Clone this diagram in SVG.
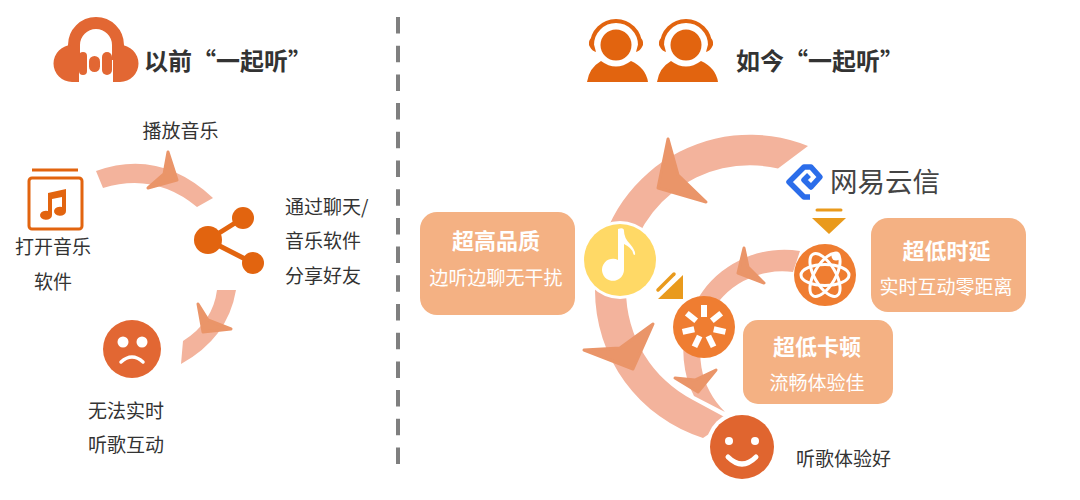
<svg xmlns="http://www.w3.org/2000/svg" width="1080" height="500" viewBox="0 0 1080 500">
<style>
text{font-family:"Noto Sans CJK SC","Liberation Sans",sans-serif;fill:#333;font-size:19px;dominant-baseline:central}
.h{font-size:24px;font-weight:700}
.c{text-anchor:middle}
.bt{font-size:22px;font-weight:700;fill:#fff;text-anchor:middle}
.bs{font-size:19px;fill:#fff;text-anchor:middle}
.arc{fill:#f3b39c}
.star{fill:#ea9569;stroke:#ea9569;stroke-width:3;stroke-linejoin:round}
.o{fill:#e2640f}
.d{fill:#ef7d31}
.box{fill:#f4b183}
.tri{fill:#e99a1c}
.wl{fill:none;stroke:#fff;stroke-linecap:round}
</style>
<rect width="1080" height="500" fill="#fff"/>
<g id="divider"><path d="M398 17V464" stroke="#7f7f7f" stroke-width="4" stroke-dasharray="16.5 12.2"/></g>
<g id="connectors">
<path class="arc" d="M96 171Q160 148 213 198L197 207Q155 172 103 188Z"/>
<path class="arc" d="M217 290H236Q228 338 181 364L183 341Q213 322 217 290Z"/>
<path class="arc" d="M808 146A155 155 0 0 0 595 290A155 155 0 0 0 703 438L730 420L693 400A124 124 0 0 1 626 290A124 124 0 0 1 778 168.500Z"/>
<path class="arc" d="M800 251A101 101 0 0 0 694 396L725 412A82 82 0 0 1 793 272Z"/>
<polygon class="star" points="168,152 177,180 148,188 164,174"/>
<polygon class="star" points="198,304 208,320 231,329 203,332"/>
<polygon class="star" points="668,139 678,175 706,202 658,188"/>
<polygon class="star" points="653,324 633,369 584,350 620,348"/>
<polygon class="star" points="716,370 698,392 675,378 695,380"/>
<polygon class="star" points="744,248 748,267 764,283 738,273"/>
</g>
<g id="title-before">
<g fill="#e26733">
<path d="M74 60V45A22 22 0 0 1 118 45V60" fill="none" stroke="#e26733" stroke-width="12"/>
<path d="M79 45V82H72A18.500 18.500 0 0 1 72 45Z"/>
<path d="M113 45V82H120A18.500 18.500 0 0 0 120 45Z"/>
<rect x="79" y="52" width="8" height="23" rx="4"/>
<rect x="89" y="56" width="11" height="16" rx="5.500"/>
<rect x="102" y="52" width="10" height="23" rx="5"/>
</g>
<text class="h" x="144" y="59.500">以前“一起听”</text>
</g>
<g id="open-music">
<path d="M32 170H78" stroke="#e2640f" stroke-width="3"/>
<rect x="29" y="178" width="53" height="51" rx="3" fill="none" stroke="#e2640f" stroke-width="3"/>
<path class="o" d="M48 193L66 189V211A6 4.500 0 1 1 62 207V197L52 199V215A6 4.500 0 1 1 48 211Z"/>
<text class="c" x="53" y="245.500">打开音乐</text>
<text class="c" x="53" y="280.500">软件</text>
</g>
<g id="play-label"><text class="c" x="180.500" y="129">播放音乐</text></g>
<g id="share">
<path d="M208 240L243 218M208 240L253 263" stroke="#e2640f" stroke-width="5"/>
<circle class="o" cx="208" cy="240" r="14"/>
<circle class="o" cx="243" cy="218" r="11"/>
<circle class="o" cx="253" cy="263" r="11"/>
<text x="285" y="205">通过聊天/</text>
<text x="285" y="239.500">音乐软件</text>
<text x="285" y="274">分享好友</text>
</g>
<g id="sad">
<circle cx="132" cy="349" r="29" fill="#e26733"/>
<circle cx="123" cy="342" r="5.500" fill="#fff"/>
<circle cx="142" cy="342" r="5.500" fill="#fff"/>
<path class="wl" stroke-width="3.500" d="M121 362Q132 352 143 362"/>
<text class="c" x="126" y="409">无法实时</text>
<text class="c" x="126" y="443">听歌互动</text>
</g>
<g id="title-now">
<g id="person1">
<circle class="o" cx="616" cy="45" r="15.500"/>
<path d="M592 45A24 24 0 0 1 640 45" fill="none" stroke="#e2640f" stroke-width="4"/>
<path class="o" d="M592 37Q587 42 590 47Q592 51 596 52ZM640 37Q645 42 642 47Q640 51 636 52Z"/>
<path class="o" d="M587 82Q589 68 601 61Q616 72 631 61Q646 68 648 82Z"/>
</g>
<g id="person2">
<circle class="o" cx="686" cy="45" r="15.500"/>
<path d="M662 45A24 24 0 0 1 710 45" fill="none" stroke="#e2640f" stroke-width="4"/>
<path class="o" d="M662 37Q657 42 660 47Q662 51 666 52ZM710 37Q715 42 712 47Q710 51 706 52Z"/>
<path class="o" d="M657 82Q659 68 671 61Q686 72 701 61Q716 68 718 82Z"/>
</g>
<text class="h" x="736" y="59.500">如今“一起听”</text>
</g>
<g id="music">
<circle cx="620" cy="260" r="39" fill="#fff"/>
<circle cx="620" cy="260" r="36" fill="#ffd966"/>
<path fill="#fff" d="M618 229Q624 227 624 231Q624 238 630 244Q636 251 635 255Q633 255 633 253Q632 248 624 244V270A11 11 0 1 1 618 260Z"/>
</g>
<g id="marker-diag">
<path d="M658 290L674 274" stroke="#e99a1c" stroke-width="3.500" stroke-linecap="round"/>
<polygon class="tri" points="683,275 683,299 658,299"/>
</g>
<g id="quality"><rect class="box" x="420" y="212" width="155" height="103" rx="17"/><text class="bt" x="496" y="239">超高品质</text><text class="bs" x="496" y="276">边听边聊无干扰</text></g>
<g id="netease">
<path d="M810 197H804L789 182L804 167H811L820 177L811 187L804 180L809 175" fill="none" stroke="#2b6dea" stroke-width="5.500" stroke-linejoin="round"/>
<text x="830" y="180" style="font-size:27.500px;fill:#444">网易云信</text>
<path d="M817 210H841" stroke="#e99a1c" stroke-width="3" stroke-linecap="round"/>
<polygon class="tri" points="812,218 846,218 829,234"/>
</g>
<g id="atom">
<circle class="d" cx="825" cy="275" r="31"/>
<g fill="none" stroke="#fff" stroke-width="3">
<ellipse cx="825" cy="275" rx="24" ry="10.500"/>
<ellipse cx="825" cy="275" rx="24" ry="10.500" transform="rotate(60 825 275)"/>
<ellipse cx="825" cy="275" rx="24" ry="10.500" transform="rotate(-60 825 275)"/>
</g>
<circle cx="836" cy="256" r="4.500" fill="#fff"/>
</g>
<g id="latency"><rect class="box" x="871" y="218" width="155" height="94" rx="17"/><text class="bt" x="946.500" y="249">超低时延</text><text class="bs" x="946" y="285">实时互动零距离</text></g>
<g id="asterisk">
<circle class="d" cx="704" cy="327" r="31"/>
<g fill="#fff">
<rect x="701" y="305" width="6" height="12" transform="rotate(0 704 327)"/>
<rect x="701" y="305" width="6" height="12" transform="rotate(51.400 704 327)"/>
<rect x="701" y="305" width="6" height="12" transform="rotate(102.900 704 327)"/>
<rect x="701" y="305" width="6" height="12" transform="rotate(154.300 704 327)"/>
<rect x="701" y="305" width="6" height="12" transform="rotate(205.700 704 327)"/>
<rect x="701" y="305" width="6" height="12" transform="rotate(257.100 704 327)"/>
<rect x="701" y="305" width="6" height="12" transform="rotate(308.600 704 327)"/>
</g>
</g>
<g id="stutter"><rect class="box" x="743" y="320" width="150" height="84" rx="15"/><text class="bt" x="817" y="345">超低卡顿</text><text class="bs" x="817" y="381">流畅体验佳</text></g>
<g id="smile">
<circle cx="742" cy="447" r="36" fill="#fff"/>
<circle cx="742" cy="447" r="32" fill="#e0652f"/>
<circle cx="729" cy="441" r="4" fill="#fff"/>
<circle cx="755" cy="441" r="4" fill="#fff"/>
<path class="wl" stroke-width="5" d="M728 457Q742 471 756 457"/>
<text x="796" y="457">听歌体验好</text>
</g>
</svg>
